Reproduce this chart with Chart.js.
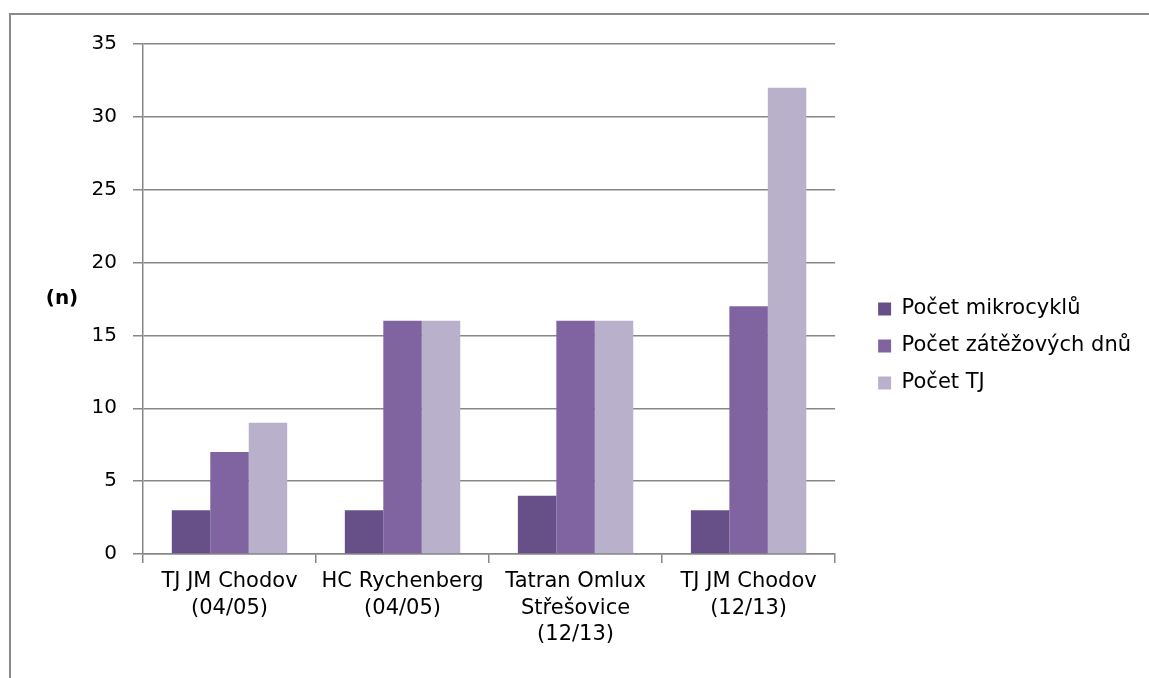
<!DOCTYPE html>
<html>
<head>
<meta charset="utf-8">
<script src="https://cdn.jsdelivr.net/npm/chart.js@4"></script>
<style>
  html, body { margin: 0; padding: 0; background: #fff; overflow: hidden; }
  #ramecek {
    position: absolute; left: 9px; top: 13px; width: 1200px; height: 700px;
    border-left: 2px solid #8a8a8a; border-top: 2px solid #8a8a8a;
  }
  #graf { position: absolute; left: 0; top: 0; }
</style>
</head>
<body>
<div id="ramecek"></div>
<canvas id="graf" width="1149" height="678"></canvas>
<script>
// Kategorie (týmy a sezóny)
const kategorie = [
  ['TJ JM Chodov', '(04/05)'],
  ['HC Rychenberg', '(04/05)'],
  ['Tatran Omlux', 'Střešovice', '(12/13)'],
  ['TJ JM Chodov', '(12/13)']
];

// Hodnoty jednotlivých řad
const mikrocykly = [3, 3, 4, 3];
const zatezoveDny = [7, 16, 16, 17];
const pocetTJ = [9, 16, 16, 32];

// Osa y
const osaYMin = 0;
const osaYMax = 35;
const osaYKrok = 5;

Chart.defaults.font.family = "'DejaVu Sans', sans-serif";
Chart.defaults.font.size = 20;
Chart.defaults.color = '#000';

const seda = '#878787';

// Popisek osy y "(n)" vodorovně vlevo
const popisekOsy = {
  id: 'popisekOsy',
  afterDraw(chart) {
    const ctx = chart.ctx;
    ctx.save();
    ctx.font = "bold 20px 'DejaVu Sans', sans-serif";
    ctx.fillStyle = '#000';
    ctx.textAlign = 'center';
    ctx.textBaseline = 'middle';
    ctx.fillText('(n)', 62, 299);
    ctx.restore();
  }
};

const data = {
  labels: kategorie,
  datasets: [{
    label: 'Počet mikrocyklů',
    data: mikrocykly,
    backgroundColor: '#665087',
    borderWidth: 0,
    yAxisID: 'y'
  }, {
    label: 'Počet zátěžových dnů',
    data: zatezoveDny,
    backgroundColor: '#8064a2',
    borderWidth: 0,
    yAxisID: 'y'
  }, {
    label: 'Počet TJ',
    data: pocetTJ,
    backgroundColor: '#b9b0cb',
    borderWidth: 0,
    yAxisID: 'y'
  }]
};

const ctx = document.getElementById('graf').getContext('2d');
const graf = new Chart(ctx, {
  type: 'bar',
  data: data,
  options: {
    responsive: false,
    animation: false,
    categoryPercentage: 0.667,
    barPercentage: 1,
    layout: {
      padding: { top: 44, left: 0, right: 8, bottom: 30 }
    },
    plugins: {
      legend: {
        position: 'right',
        maxWidth: 400,
        labels: {
          boxWidth: 13,
          boxHeight: 13,
          padding: 16,
          font: { size: 21 }
        }
      },
      tooltip: { enabled: false }
    },
    scales: {
      x: {
        grid: {
          drawOnChartArea: false,
          drawTicks: true,
          tickLength: 9,
          color: seda,
          lineWidth: 1.5
        },
        border: { color: seda, width: 1.5 },
        ticks: {
          maxRotation: 0,
          autoSkip: false,
          padding: 6,
          font: { size: 21, lineHeight: 1.24 }
        },
        afterFit(scale) { scale.height = 94; }
      },
      y: {
        min: osaYMin,
        max: osaYMax,
        ticks: {
          stepSize: osaYKrok,
          padding: 16,
          font: { size: 20 }
        },
        grid: {
          color: seda,
          lineWidth: 1.5,
          tickLength: 10
        },
        border: { color: seda, width: 1.5 },
        afterFit(scale) { scale.width = 143; }
      },
      mezera: {
        position: 'right',
        display: true,
        grid: { display: false },
        ticks: { display: false },
        border: { display: false },
        afterFit(scale) { scale.width = 27; }
      }
    }
  },
  plugins: [popisekOsy]
});
</script>
</body>
</html>
